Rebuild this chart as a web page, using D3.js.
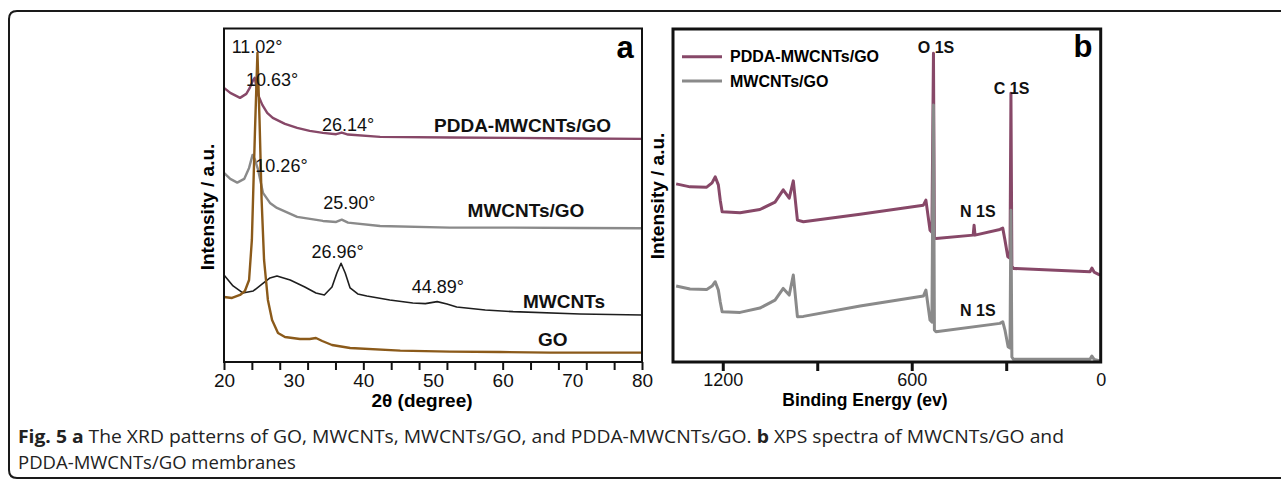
<!DOCTYPE html>
<html>
<head>
<meta charset="utf-8">
<script src="https://cdn.jsdelivr.net/npm/d3@7"></script>
<style>
  body { margin: 0; background: #fff; }
  svg { display: block; }
</style>
</head>
<body>
<script>
// ---- data ----
// panel a: XRD, [2theta, intensity a.u.]
const xrdGO = [[20,19.5],[21.15,19.2],[22.3,20.1],[23.0,21.3],[23.6,24.6],[24.0,36.6],[24.45,69.6],[24.8,92.7],
  [25.1,72.6],[25.4,48.6],[25.75,30.6],[26.3,18.6],[26.9,12.6],[27.75,8.7],[28.75,7.5],[30.9,6.9],[32.3,6.9],
  [33.2,7.2],[34.1,6.3],[35.5,5.1],[38.1,4.2],[45.3,3.4],[52.4,3.1],[59.6,3.0],[66.8,2.8],[80,2.8]];
const xrdMWCNTs = [[20,26.1],[21.3,22.8],[22.7,20.7],[24.2,21.3],[25.5,23.4],[26.6,25.2],[27.6,25.8],[29.5,24.6],
  [31.6,22.5],[33.2,20.7],[34.4,20.1],[35.5,22.5],[36.2,26.7],[36.8,29.6],[37.4,26.7],[38.1,22.2],[39.2,20.4],
  [40.5,19.8],[43.8,18.6],[47.1,17.7],[48.9,17.5],[50.6,18.1],[52.0,17.4],[53.4,16.5],[57.5,15.6],[61.5,15.1],
  [71.1,14.4],[80,14.1]];
const xrdMWCNTsGO = [[20,56.7],[20.9,54.9],[21.9,53.8],[22.9,54.9],[23.6,58.2],[24.1,62.1],[24.45,60.6],[24.9,57.6],
  [25.6,50.7],[26.6,47.7],[27.6,46.2],[30.5,43.5],[34.2,42.3],[36.1,42.0],[36.9,42.7],[37.8,41.8],[42.4,40.8],
  [52.4,40.3],[61.5,40.3],[71.1,40.2],[80,40.1]];
const xrdPDDA = [[20,82.2],[20.9,80.7],[22.3,79.2],[23.2,80.4],[23.7,82.2],[24.2,84.6],[24.4,85.2],[24.6,83.1],
  [24.9,80.1],[25.5,77.1],[26.2,74.7],[27.0,73.2],[28.75,71.4],[30.5,70.2],[32.3,69.3],[34.2,68.7],[36.1,68.3],
  [36.9,68.8],[37.8,68.2],[42.4,67.5],[52.4,67.3],[61.5,67.2],[71.1,67.0],[80,66.9]];
const xrdTickMarks = [20,24,28,32,36,40,44,48,52,56,60,64,68,72,76,80];
const xrdTickLabels = [20,30,40,50,60,70,80];
const xrdNotes = [
  {text:'11.02°', x:24.75, y:94.5, bold:false},
  {text:'10.63°', x:26.9, y:84.6, bold:false},
  {text:'26.14°', x:37.8, y:71.1, bold:false},
  {text:'PDDA-MWCNTs/GO', x:62.85, y:71.1, bold:true},
  {text:'10.26°', x:28.25, y:58.8, bold:false},
  {text:'25.90°', x:38.0, y:47.7, bold:false},
  {text:'MWCNTs/GO', x:63.35, y:45.6, bold:true},
  {text:'26.96°', x:36.3, y:33.0, bold:false},
  {text:'44.89°', x:50.7, y:22.5, bold:false},
  {text:'MWCNTs', x:68.8, y:18.1, bold:true},
  {text:'GO', x:67.2, y:6.9, bold:true}
];

// panel b: XPS, [binding energy eV, intensity a.u.]
const xpsPDDA = [[1348,53.5],[1304,52.6],[1251,52.5],[1234,53.8],[1224,55.6],[1214,53.2],[1208,48.6],[1202,45.1],
  [1145,44.8],[1082,45.8],[1034,48.0],[1008,51.7],[989,49.2],[976,54.4],[963,42.6],[944,42.1],[764,44.4],
  [563,47.1],[555,48.6],[542,39.6],[536,39.0],[531,92.7],[528,37.2],[523,37.1],[405,38.1],[402,41.1],[399,38.1],
  [320,39.8],[311,40.2],[304,36.6],[295,31.6],[288,31.2],[285,80.7],[282,28.8],[277,28.1],[34,27.1],[28,28.2],
  [21,27.0],[2,26.1]];
const xpsMWCNTsGO = [[1348,22.8],[1304,21.9],[1251,21.8],[1234,22.8],[1224,24.1],[1214,21.6],[1208,18.0],[1202,15.1],
  [1145,14.9],[1082,16.2],[1034,18.6],[1008,22.1],[989,20.1],[976,26.1],[963,13.6],[944,13.7],[764,16.8],
  [563,19.8],[555,21.6],[542,12.6],[536,12.0],[531,77.2],[528,9.6],[523,9.1],[320,11.6],[311,12.1],[304,9.6],
  [294,4.6],[288,4.2],[285,45.6],[282,1.5],[277,0.8],[34,0.8],[28,1.8],[21,0.8],[2,0.3]];
const xpsTickMarks = [1200,900,600,300];
const xpsTickLabels = [1200,600,0];
const xpsSeries = ['PDDA-MWCNTs/GO','MWCNTs/GO'];
const xpsNotes = [
  {text:'O 1S', x:523, y:94.4},
  {text:'C 1S', x:283, y:82.2},
  {text:'N 1S', x:390, y:45.1},
  {text:'N 1S', x:390, y:15.6}
];

const colors = {
  purple: '#874868',
  gray: '#8a8a8a',
  black: '#1e1e1e',
  brown: '#8b5a1a'
};

// ---- svg ----
let width = 1281, height = 480;
let svg = d3.select('body')
  .append('svg')
  .attr('width', width)
  .attr('height', height);

const font = "'Liberation Sans', Arial, sans-serif";

// outer rounded frame (open on the right)
svg.append('path')
  .attr('d', 'M1290,11 H17 Q9,11 9,19 V470 Q9,478 17,478 H1290')
  .attr('fill', 'none')
  .attr('stroke', '#1a1a1a')
  .attr('stroke-width', 2);

// ================= panel a =================
const ax = d3.scaleLinear().domain([20, 80]).range([224, 642]);
const ay = d3.scaleLinear().domain([0, 100]).range([362, 28.5]);

const lineA = d3.line().x(d => ax(d[0])).y(d => ay(d[1]));

const gA = svg.append('g');

[[xrdPDDA, colors.purple], [xrdMWCNTsGO, colors.gray], [xrdMWCNTs, colors.black], [xrdGO, colors.brown]]
  .forEach(([data, c]) => {
    gA.append('path')
      .datum(data)
      .attr('d', lineA)
      .attr('fill', 'none')
      .attr('stroke', c)
      .attr('stroke-width', c === colors.black ? 1.6 : 2.4)
      .attr('stroke-linejoin', 'round');
  });

// frame
gA.append('rect')
  .attr('x', ax(20)).attr('y', ay(100))
  .attr('width', ax(80) - ax(20)).attr('height', ay(0) - ay(100))
  .attr('fill', 'none').attr('stroke', '#111').attr('stroke-width', 2);

// tick marks and labels
gA.append('g')
  .attr('transform', `translate(0, ${ay(0)})`)
  .call(d3.axisBottom(ax).tickValues(xrdTickMarks).tickSize(8).tickFormat(''))
  .call(g => g.select('.domain').remove())
  .call(g => g.selectAll('line').attr('stroke', '#111').attr('stroke-width', 2));

gA.append('g')
  .attr('transform', `translate(0, ${ay(0)})`)
  .call(d3.axisBottom(ax).tickValues(xrdTickLabels).tickSize(0).tickPadding(12).tickFormat(d3.format('d')))
  .call(g => g.select('.domain').remove())
  .call(g => g.selectAll('text').attr('font-family', font).attr('font-size', 19).attr('fill', '#111'));

gA.append('text')
  .attr('x', 422).attr('y', 407)
  .attr('text-anchor', 'middle')
  .attr('font-family', font).attr('font-size', 19).attr('font-weight', 'bold')
  .text('2θ (degree)');

gA.append('text')
  .attr('transform', 'translate(214, 207) rotate(-90)')
  .attr('text-anchor', 'middle')
  .attr('font-family', font).attr('font-size', 19).attr('font-weight', 'bold')
  .text('Intensity / a.u.');

gA.selectAll('.note')
  .data(xrdNotes)
  .enter().append('text')
  .attr('x', d => ax(d.x))
  .attr('y', d => ay(d.y))
  .attr('dy', '0.35em')
  .attr('text-anchor', 'middle')
  .attr('font-family', font)
  .attr('font-size', d => d.bold ? 19 : 18)
  .attr('font-weight', d => d.bold ? 'bold' : 'normal')
  .attr('fill', '#111')
  .text(d => d.text);

gA.append('text')
  .attr('x', 625).attr('y', 58)
  .attr('text-anchor', 'middle')
  .attr('font-family', font).attr('font-size', 31).attr('font-weight', 'bold')
  .text('a');

// ================= panel b =================
const bx = d3.scaleLinear().domain([1358, 0]).range([673, 1100.7]);
const by = d3.scaleLinear().domain([0, 100]).range([362, 29]);

const lineB = d3.line().x(d => bx(d[0])).y(d => by(d[1]));

const gB = svg.append('g');

[[xpsPDDA, colors.purple], [xpsMWCNTsGO, colors.gray]].forEach(([data, c]) => {
  gB.append('path')
    .datum(data)
    .attr('d', lineB)
    .attr('fill', 'none')
    .attr('stroke', c)
    .attr('stroke-width', 3)
    .attr('stroke-linejoin', 'round');
});

gB.append('rect')
  .attr('x', bx(1358)).attr('y', by(100))
  .attr('width', bx(0) - bx(1358)).attr('height', by(0) - by(100))
  .attr('fill', 'none').attr('stroke', '#111').attr('stroke-width', 3);

gB.append('g')
  .attr('transform', `translate(0, ${by(0)})`)
  .call(d3.axisBottom(bx).tickValues(xpsTickMarks).tickSize(9).tickFormat(''))
  .call(g => g.select('.domain').remove())
  .call(g => g.selectAll('line').attr('stroke', '#111').attr('stroke-width', 3));

gB.append('g')
  .attr('transform', `translate(0, ${by(0)})`)
  .call(d3.axisBottom(bx).tickValues(xpsTickLabels).tickSize(0).tickPadding(11).tickFormat(d3.format('d')))
  .call(g => g.select('.domain').remove())
  .call(g => g.selectAll('text').attr('font-family', font).attr('font-size', 18).attr('fill', '#111'));

gB.append('text')
  .attr('x', 865).attr('y', 406)
  .attr('text-anchor', 'middle')
  .attr('font-family', font).attr('font-size', 17.5).attr('font-weight', 'bold')
  .text('Binding Energy (ev)');

gB.append('text')
  .attr('transform', 'translate(664, 196) rotate(-90)')
  .attr('text-anchor', 'middle')
  .attr('font-family', font).attr('font-size', 19).attr('font-weight', 'bold')
  .text('Intensity / a.u.');

gB.selectAll('.note')
  .data(xpsNotes)
  .enter().append('text')
  .attr('x', d => bx(d.x))
  .attr('y', d => by(d.y))
  .attr('dy', '0.35em')
  .attr('text-anchor', 'middle')
  .attr('font-family', font).attr('font-size', 16).attr('font-weight', 'bold')
  .attr('fill', '#111')
  .text(d => d.text);

// legend
const legend = gB.selectAll('.legend')
  .data(xpsSeries)
  .enter().append('g')
  .attr('transform', (d, i) => `translate(682, ${56.7 + i * 24.3})`);

legend.append('line')
  .attr('x1', 0).attr('x2', 40)
  .attr('stroke', (d, i) => i === 0 ? colors.purple : colors.gray)
  .attr('stroke-width', 3);

legend.append('text')
  .attr('x', 48).attr('dy', '0.35em')
  .attr('font-family', font).attr('font-size', 16).attr('font-weight', 'bold')
  .text(d => d);

gB.append('text')
  .attr('x', 1083).attr('y', 57)
  .attr('text-anchor', 'middle')
  .attr('font-family', font).attr('font-size', 31).attr('font-weight', 'bold')
  .text('b');

// ================= caption =================
const capFont = "'Open Sans', 'Noto Sans', sans-serif";
const cap1 = svg.append('text')
  .attr('x', 18).attr('y', 443)
  .attr('font-family', capFont).attr('font-size', 18.5).attr('fill', '#222')
  .attr('textLength', 1046).attr('lengthAdjust', 'spacingAndGlyphs')
  .style('white-space', 'pre');
cap1.append('tspan').attr('font-weight', 'bold').text('Fig. 5 a');
cap1.append('tspan').text(' The XRD patterns of GO, MWCNTs, MWCNTs/GO, and PDDA-MWCNTs/GO. ');
cap1.append('tspan').attr('font-weight', 'bold').text('b');
cap1.append('tspan').text(' XPS spectra of MWCNTs/GO and');

svg.append('text')
  .attr('x', 18).attr('y', 469)
  .attr('font-family', capFont).attr('font-size', 18.5).attr('fill', '#222')
  .text('PDDA-MWCNTs/GO membranes');
</script>
</body>
</html>
